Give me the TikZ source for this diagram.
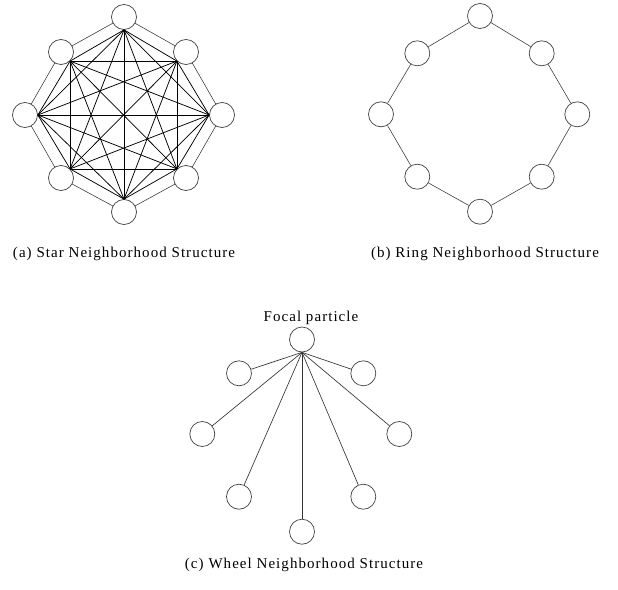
\documentclass[tikz,border=0pt]{standalone}
\usepackage{fontspec}
\setmainfont{Liberation Serif}[LetterSpace=7]
\begin{document}
\begin{tikzpicture}[x=1pt,y=-1pt,
  pnode/.style={circle,draw=black!75,line width=0.7pt,minimum size=25pt,inner sep=0pt},
  ring/.style={draw=black!75,line width=0.6pt},
  clique/.style={draw=black,line width=0.75pt},
  spoke/.style={draw=black!80,line width=0.65pt},
  lbl/.style={font=\fontsize{15}{17}\selectfont,inner sep=0pt,anchor=base}]
\useasboundingbox (0,0) rectangle (618,589);
% (a) star
\node[pnode] (a1) at (124,17) {};
\node[pnode] (a2) at (186,52) {};
\node[pnode] (a3) at (222,115) {};
\node[pnode] (a4) at (186,178) {};
\node[pnode] (a5) at (124,212) {};
\node[pnode] (a6) at (61,178) {};
\node[pnode] (a7) at (25,115) {};
\node[pnode] (a8) at (61,52) {};
\foreach \i/\j in {1/2,2/3,3/4,4/5,5/6,6/7,7/8,8/1} \draw[ring] (a\i) -- (a\j);
\coordinate (p1) at (a1.south);
\coordinate (p2) at (a2.-135);
\coordinate (p3) at (a3.west);
\coordinate (p4) at (a4.135);
\coordinate (p5) at (a5.north);
\coordinate (p6) at (a6.45);
\coordinate (p7) at (a7.east);
\coordinate (p8) at (a8.-45);
\foreach \i in {1,...,8}{
  \foreach \j in {1,...,8}{
    \ifnum\i<\j \draw[clique] (p\i) -- (p\j); \fi
  }
}
\node[lbl] (la) at (124,257) {(a) Star Neighborhood Structure};
% (b) ring
\node[pnode] (b1) at (480,16) {};
\node[pnode] (b2) at (541.7,53.3) {};
\node[pnode] (b3) at (577.3,114.3) {};
\node[pnode] (b4) at (541.7,176.7) {};
\node[pnode] (b5) at (480,211.7) {};
\node[pnode] (b6) at (417.3,176.7) {};
\node[pnode] (b7) at (381,114.3) {};
\node[pnode] (b8) at (417.3,53.3) {};
\foreach \i/\j in {1/2,2/3,3/4,4/5,5/6,6/7,7/8,8/1} \draw[ring] (b\i) -- (b\j);
\node[lbl] (lb) at (485,257) {(b) Ring Neighborhood Structure};
% (c) wheel
\node[pnode] (f) at (302,339.5) {};
\node[lbl] (lf) at (311,321) {Focal particle};
\node[pnode] (c1) at (239,373.3) {};
\node[pnode] (c2) at (363.3,373.3) {};
\node[pnode] (c3) at (202.3,434) {};
\node[pnode] (c4) at (399.3,434) {};
\node[pnode] (c5) at (239,496.7) {};
\node[pnode] (c6) at (363.3,496.7) {};
\node[pnode] (c7) at (302,531.7) {};
\foreach \k in {1,...,7} \draw[spoke] (f.south) -- (c\k);
\node[lbl] (lc) at (304,568) {(c) Wheel Neighborhood Structure};
\end{tikzpicture}
\end{document}
